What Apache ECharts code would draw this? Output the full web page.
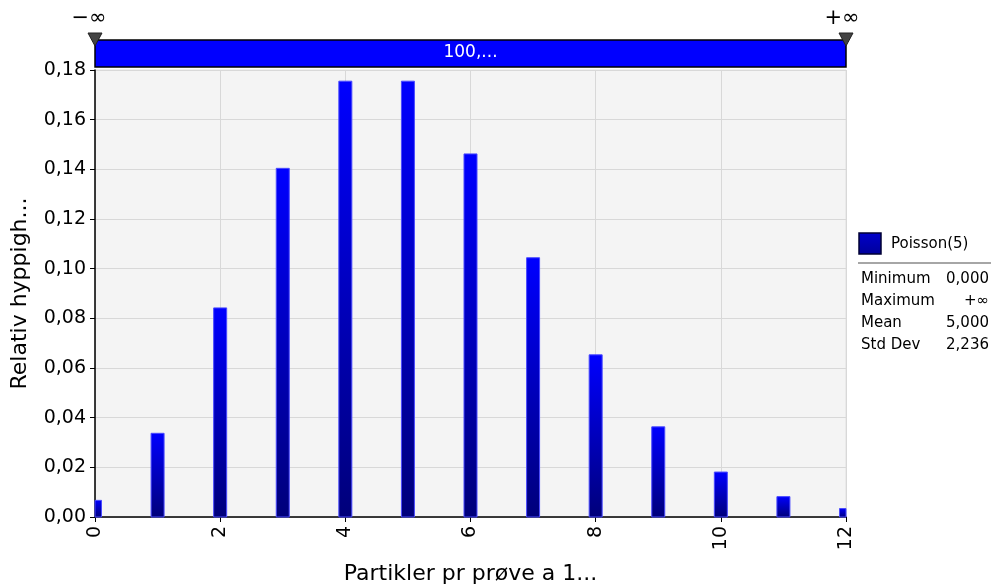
<!DOCTYPE html>
<html><head><meta charset="utf-8">
<script src="https://cdn.jsdelivr.net/npm/echarts@6/dist/echarts.min.js"></script>
<style>html,body{margin:0;padding:0;background:#fff}#c{width:991px;height:584px}</style>
</head><body><div id="c"></div>
<script>
const categories = [0,1,2,3,4,5,6,7,8,9,10,11,12];
const values = [0.0067,0.0337,0.0842,0.1404,0.1755,0.1755,0.1462,0.1044,0.0653,0.0363,0.0181,0.0082,0.0034];
const yTicks = ['0,00','0,02','0,04','0,06','0,08','0,10','0,12','0,14','0,16','0,18'];
const seriesName = 'Poisson(5)';
const statLabels = ['Minimum','Maximum','Mean','Std Dev'];
const statValues = ['0,000','+\u221e','5,000','2,236'];
const sliderLabel = '100,...';
const leftLabel = '\u2212\u221e', rightLabel = '+\u221e';

const F = 'DejaVu Sans, Verdana, sans-serif';
const chart = echarts.init(document.getElementById('c'));
const gx0 = 95, gx1 = 846, gy0 = 70, gy1 = 517;
const BW = 13;
const graphics = [
  {type:'rect', shape:{x:gx0,y:40,width:gx1-gx0,height:27}, style:{fill:'#0000ff',stroke:'#000',lineWidth:1.5}},
  {type:'text', x:(gx0+gx1)/2, y:53, style:{text:sliderLabel,fill:'#fff',font:'17px '+F,align:'center',verticalAlign:'middle'}},
  {type:'polygon', shape:{points:[[gx0-7,33],[gx0+7,33],[gx0,46]]}, style:{fill:'#444',stroke:'#222'}},
  {type:'polygon', shape:{points:[[gx1-7,33],[gx1+7,33],[gx1,46]]}, style:{fill:'#444',stroke:'#222'}},
  {type:'text', x:gx0-6, y:19, style:{text:leftLabel,fill:'#000',font:'21px '+F,align:'center',verticalAlign:'middle'}},
  {type:'text', x:gx1-4, y:19, style:{text:rightLabel,fill:'#000',font:'21px '+F,align:'center',verticalAlign:'middle'}},
  {type:'rect', shape:{x:859,y:233,width:22,height:21}, style:{fill:new echarts.graphic.LinearGradient(0,0,0,1,[{offset:0,color:'#0000cc'},{offset:1,color:'#00009a'}]),stroke:'#000033',lineWidth:1.5}},
  {type:'text', x:891, y:244, style:{text:seriesName,fill:'#000',font:'15px '+F,align:'left',verticalAlign:'middle'}},
  {type:'line', shape:{x1:858,y1:263,x2:991,y2:263}, style:{stroke:'#888',lineWidth:1.5}}
];
statLabels.forEach((l,i)=>{
  graphics.push({type:'text', x:861, y:279+i*22, style:{text:l,fill:'#000',font:'15px '+F,align:'left',verticalAlign:'middle'}});
  graphics.push({type:'text', x:989, y:279+i*22, style:{text:statValues[i],fill:'#000',font:'15px '+F,align:'right',verticalAlign:'middle'}});
});

chart.setOption({
  animation:false,
  backgroundColor:'#fff',
  grid:{left:gx0, right:991-gx1, top:gy0, bottom:584-gy1, containLabel:false, outerBoundsMode:'none', show:true, backgroundColor:'#f4f4f4', borderColor:'#e0e0e0', borderWidth:1},
  xAxis:{type:'value', min:0, max:12, interval:2,
    name:'Partikler pr pr\u00f8ve a 1...', nameLocation:'middle', nameGap:46,
    nameTextStyle:{fontFamily:F,fontSize:22,color:'#000'},
    axisLine:{show:true,onZero:false,lineStyle:{color:'#000',width:1.5}},
    axisTick:{show:true,length:5,lineStyle:{color:'#000'}},
    axisLabel:{rotate:90,fontFamily:F,fontSize:19,color:'#000',margin:9},
    splitLine:{show:true,lineStyle:{color:'#d8d8d8',width:1}}},
  yAxis:{type:'value', min:0, max:0.18, interval:0.02,
    name:'Relativ hyppigh...', nameLocation:'middle', nameGap:64,
    nameTextStyle:{fontFamily:F,fontSize:22,color:'#000'},
    axisLine:{show:true,lineStyle:{color:'#000',width:1.5}},
    axisTick:{show:true,length:5,lineStyle:{color:'#000'}},
    axisLabel:{fontFamily:F,fontSize:19,color:'#000',margin:9,formatter:(v)=>yTicks[Math.round(v/0.02)]},
    splitLine:{show:true,lineStyle:{color:'#d8d8d8',width:1}}},
  series:[{type:'custom', name:seriesName,
    data:categories.map((c,i)=>[c,values[i]]),
    encode:{x:0,y:1},
    renderItem:function(params, api){
      const top = api.coord([api.value(0), api.value(1)]);
      const base = api.coord([api.value(0), 0]);
      const cs = params.coordSys;
      const r = echarts.graphic.clipRectByRect(
        {x:top[0]-BW/2, y:top[1], width:BW, height:base[1]-top[1]},
        {x:cs.x, y:cs.y, width:cs.width, height:cs.height});
      if(!r) return null;
      return {type:'rect', shape:r, style:{
        fill:new echarts.graphic.LinearGradient(0,0,0,1,[{offset:0,color:'#0000ff'},{offset:1,color:'#00007a'}]),
        stroke:'#4a4aff', lineWidth:1}};
    }}],
  graphic:graphics
});
</script></body></html>
